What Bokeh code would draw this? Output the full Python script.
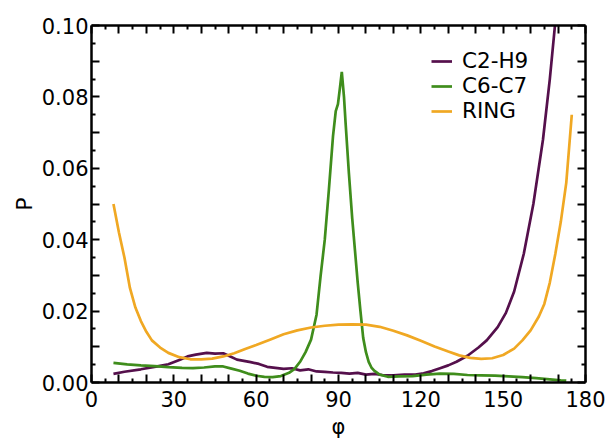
from bokeh.plotting import figure
from bokeh.models import (Range1d, LinearAxis, FixedTicker, CustomJSTickFormatter,
                          Legend, LegendItem)
from bokeh.embed import file_html
from bokeh.resources import INLINE

# ---- data ----
c2h9_x = [8, 12, 18, 24, 28, 32, 35, 38, 42, 45, 48, 50, 53, 56, 58, 61, 64, 67, 70, 73,
          76, 79, 82, 85, 88, 91, 94, 97, 100, 103, 106, 110, 114, 118, 121, 124, 127, 130,
          133, 137, 141, 144, 148, 151, 154, 157.5, 161, 164.5, 167, 169, 170]
c2h9_y = [0.0024, 0.0030, 0.0037, 0.0045, 0.0051, 0.0063, 0.0073, 0.0078, 0.0083, 0.0081,
          0.0082, 0.0075, 0.0064, 0.0060, 0.0057, 0.0052, 0.0044, 0.0041, 0.0038, 0.0040,
          0.0034, 0.0037, 0.0031, 0.0030, 0.0028, 0.0027, 0.0025, 0.0027, 0.0022, 0.0024,
          0.0021, 0.0020, 0.0022, 0.0022, 0.0026, 0.0032, 0.0040, 0.0048, 0.0058, 0.0075,
          0.0098, 0.0118, 0.0155, 0.0195, 0.0255, 0.036, 0.050, 0.068, 0.085, 0.101, 0.110]

c6c7_x = [8, 13, 18, 23, 28, 33, 37, 41, 45, 48, 51, 54, 57, 60, 63, 66, 69, 72, 74, 76,
          78, 80, 82, 83.5, 85, 86.5, 88, 89, 89.8, 90.6, 91.2, 92, 92.6, 93.8, 95, 96, 97,
          98, 99, 100, 101, 102, 103, 105, 108, 112, 117, 122, 127, 132, 137, 142, 147, 152,
          157, 162, 167, 171, 173]
c6c7_y = [0.0055, 0.0051, 0.0048, 0.0046, 0.0043, 0.0041, 0.0040, 0.0042, 0.0045, 0.0045,
          0.0039, 0.0033, 0.0025, 0.0019, 0.0016, 0.0015, 0.0018, 0.0027, 0.0038, 0.0058,
          0.0085, 0.0120, 0.019, 0.030, 0.040, 0.054, 0.069, 0.076, 0.078, 0.083, 0.087,
          0.080, 0.0725, 0.0585, 0.046, 0.037, 0.028, 0.020, 0.0125, 0.0085, 0.0058, 0.0042,
          0.0033, 0.0022, 0.0016, 0.0017, 0.0018, 0.0022, 0.0025, 0.0024, 0.0021, 0.0020,
          0.0019, 0.0017, 0.0015, 0.0012, 0.0009, 0.0006, 0.0005]

ring_x = [8, 10, 12, 14, 16, 18, 20, 22, 25, 28, 32, 36, 40, 44, 48, 52, 56, 60, 65, 70,
          75, 80, 85, 90, 95, 100, 105, 110, 115, 120, 125, 130, 134, 138, 142, 146, 150,
          154, 157, 160, 163, 165, 167, 169, 171, 173, 175]
ring_y = [0.050, 0.042, 0.035, 0.0265, 0.021, 0.0172, 0.0142, 0.0118, 0.0098, 0.0083,
          0.0071, 0.0065, 0.0065, 0.0067, 0.0073, 0.0082, 0.0094, 0.0105, 0.0120, 0.0135,
          0.0146, 0.0154, 0.0159, 0.0162, 0.0163, 0.0162, 0.0156, 0.0145, 0.0132, 0.0117,
          0.0101, 0.0087, 0.0076, 0.0069, 0.0066, 0.0068, 0.0077, 0.0095, 0.0118, 0.0146,
          0.0185, 0.022, 0.028, 0.036, 0.045, 0.056, 0.075]

series_names = ["C2-H9", "C6-C7", "RING"]
series_colors = ["#55104c", "#3f8d1c", "#f0a823"]

x_major = [0, 10, 20, 30, 40, 50, 60, 70, 80, 90, 100, 110, 120, 130, 140, 150, 160, 170, 180]
x_minor = [5, 15, 25, 35, 45, 55, 65, 75, 85, 95, 105, 115, 125, 135, 145, 155, 165, 175]
y_major = [0.0, 0.01, 0.02, 0.03, 0.04, 0.05, 0.06, 0.07, 0.08, 0.09, 0.1]
y_minor = [0.005, 0.015, 0.025, 0.035, 0.045, 0.055, 0.065, 0.075, 0.085, 0.095]

x_title = "φ"
y_title = "P"

FONT = "DejaVu Sans"

p = figure(frame_width=494, frame_height=357, output_backend="svg", toolbar_location=None,
           x_range=Range1d(0, 180), y_range=Range1d(0, 0.1),
           min_border_left=91, min_border_top=25, min_border_right=23, min_border_bottom=58,
           x_axis_label=x_title, y_axis_label=y_title)
p.grid.visible = False
p.outline_line_color = None
p.background_fill_color = "white"
p.border_fill_color = "white"

xfmt = CustomJSTickFormatter(code="return (Math.round(tick) % 30 == 0) ? tick.toFixed(0) : '';")
yfmt = CustomJSTickFormatter(code="return (Math.round(tick*1000) % 20 == 0) ? tick.toFixed(2) : '';")
blank = CustomJSTickFormatter(code="return '';")

xt = FixedTicker(ticks=x_major, minor_ticks=x_minor)
yt = FixedTicker(ticks=y_major, minor_ticks=y_minor)

p.add_layout(LinearAxis(), "above")
p.add_layout(LinearAxis(), "right")

for ax in p.axis:
    ax.axis_line_width = 2.5
    ax.axis_line_color = "black"
    ax.major_tick_in = 8
    ax.major_tick_out = 0
    ax.minor_tick_in = 4
    ax.minor_tick_out = 0
    ax.major_tick_line_width = 2
    ax.minor_tick_line_width = 2
    ax.major_tick_line_color = "black"
    ax.minor_tick_line_color = "black"
    ax.major_label_text_font = FONT
    ax.major_label_text_font_size = "21px"
    ax.major_label_text_color = "black"
    ax.axis_label_text_font = FONT
    ax.axis_label_text_font_size = "21px"
    ax.axis_label_text_font_style = "normal"
    ax.axis_label_text_color = "black"

for ax in p.xaxis:
    ax.ticker = xt
for ax in p.yaxis:
    ax.ticker = yt

p.below[0].formatter = xfmt
p.below[0].major_label_standoff = 8
p.below[0].axis_label_standoff = 5
p.left[0].formatter = yfmt
p.left[0].major_label_standoff = 3
p.left[0].axis_label_standoff = 2
p.left[0].axis_label_text_font_size = "22px"
p.above[0].formatter = blank
p.above[0].major_label_standoff = 0
p.right[0].formatter = blank
p.right[0].major_label_standoff = 0

xs = [c2h9_x, c6c7_x, ring_x]
ys = [c2h9_y, c6c7_y, ring_y]
renderers = []
for xv, yv, c in zip(xs, ys, series_colors):
    renderers.append(p.line(xv, yv, line_color=c, line_width=2.7))

# one single-row legend per series, so the row spacing matches the reference
legend_y = [309, 284, 259]
for name, r, ly in zip(series_names, renderers, legend_y):
    lg = Legend(items=[LegendItem(label=name, renderers=[r])], location=(340, ly))
    lg.background_fill_alpha = 0
    lg.border_line_color = None
    lg.padding = 0
    lg.margin = 0
    lg.glyph_width = 21
    lg.glyph_height = 20
    lg.label_height = 20
    lg.label_standoff = 10
    lg.label_text_font = FONT
    lg.label_text_font_size = "21.5px"
    lg.label_text_color = "black"
    p.add_layout(lg)

open("out.html", "w").write(file_html(p, INLINE))
